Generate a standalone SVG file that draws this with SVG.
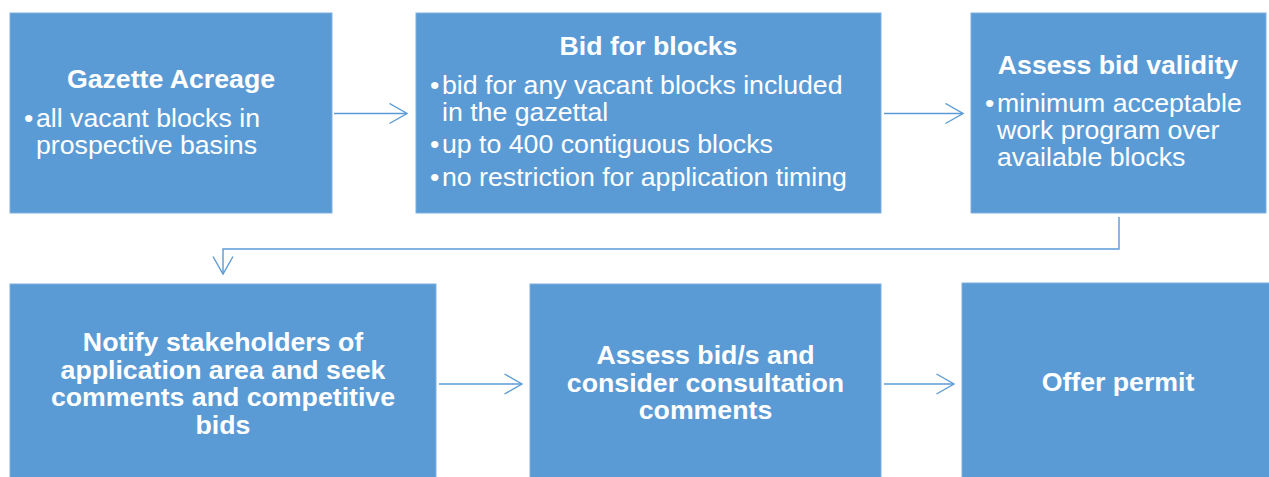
<svg xmlns="http://www.w3.org/2000/svg" width="1269" height="477" viewBox="0 0 1269 477">
<defs>
<style>
.box{fill:#5B9BD5;stroke:#7FB0E0;stroke-width:1}
.t{font-family:"Liberation Sans",Arial,sans-serif;font-size:26.7px;fill:#FFFFFF}
.b{font-weight:bold}
.c{text-anchor:middle}
.conn{fill:none;stroke:#5B9BD5;stroke-width:1.4}
</style>
<marker id="arr" viewBox="0 0 20 22" refX="18.5" refY="11" markerWidth="20" markerHeight="22" markerUnits="userSpaceOnUse" orient="auto">
<path d="M1,1 L18.5,11 L1,21" fill="none" stroke="#5B9BD5" stroke-width="1.4"/>
</marker>
</defs>
<rect width="1269" height="477" fill="#FFFFFF"/>
<g id="connectors">
<line class="conn" x1="334" y1="113.5" x2="407" y2="113.5" marker-end="url(#arr)"/>
<line class="conn" x1="884" y1="113.5" x2="963" y2="113.5" marker-end="url(#arr)"/>
<path class="conn" d="M1119,217 V249 H223 V274" marker-end="url(#arr)"/>
<line class="conn" x1="439" y1="384" x2="522" y2="384" marker-end="url(#arr)"/>
<line class="conn" x1="884" y1="384" x2="954" y2="384" marker-end="url(#arr)"/>
</g>
<g id="gazette">
<rect class="box" x="10" y="13" width="322" height="200"/>
<text class="t b c" x="171" y="88">Gazette Acreage</text>
<text class="t"><tspan x="24" y="127">•</tspan><tspan x="36" y="127">all vacant blocks in</tspan><tspan x="36" y="154">prospective basins</tspan></text>
</g>
<g id="bid">
<rect class="box" x="416" y="13" width="465" height="200"/>
<text class="t b c" x="648.5" y="55">Bid for blocks</text>
<text class="t"><tspan x="430" y="94">•</tspan><tspan x="442" y="94">bid for any vacant blocks included</tspan><tspan x="442" y="121">in the gazettal</tspan></text>
<text class="t"><tspan x="430" y="153">•</tspan><tspan x="442" y="153">up to 400 contiguous blocks</tspan></text>
<text class="t"><tspan x="430" y="186">•</tspan><tspan x="442" y="186">no restriction for application timing</tspan></text>
</g>
<g id="validity">
<rect class="box" x="971" y="13" width="295" height="200"/>
<text class="t b c" x="1118" y="74">Assess bid validity</text>
<text class="t"><tspan x="985" y="112">•</tspan><tspan x="997" y="112">minimum acceptable</tspan><tspan x="997" y="139">work program over</tspan><tspan x="997" y="166">available blocks</tspan></text>
</g>
<g id="notify">
<rect class="box" x="10" y="284" width="426" height="200"/>
<text class="t b c"><tspan x="223" y="351">Notify stakeholders of</tspan><tspan x="223" y="378.5">application area and seek</tspan><tspan x="223" y="406">comments and competitive</tspan><tspan x="223" y="433.5">bids</tspan></text>
</g>
<g id="assess">
<rect class="box" x="530" y="284" width="351" height="200"/>
<text class="t b c"><tspan x="705.5" y="364">Assess bid/s and</tspan><tspan x="705.5" y="391.5">consider consultation</tspan><tspan x="705.5" y="419">comments</tspan></text>
</g>
<g id="offer">
<rect class="box" x="962" y="283" width="313" height="200"/>
<text class="t b c" x="1118" y="391">Offer permit</text>
</g>
</svg>
